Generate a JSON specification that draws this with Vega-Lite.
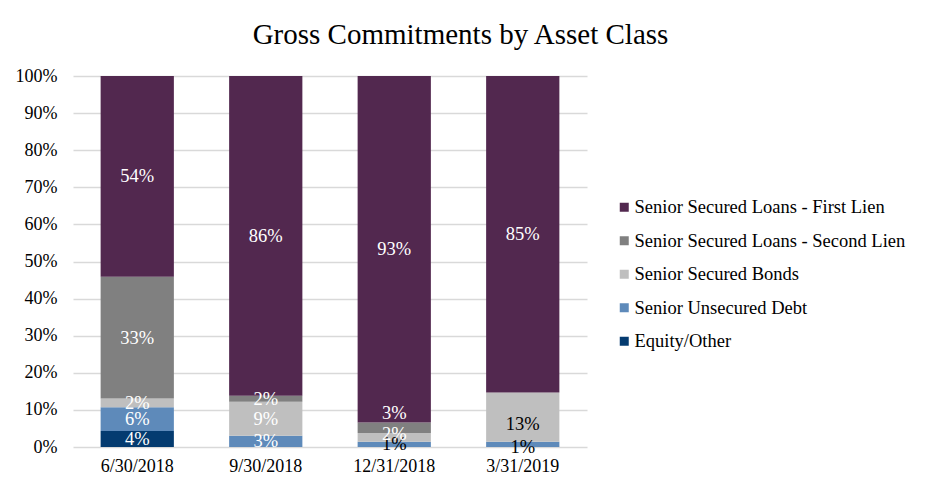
{
  "$schema": "https://vega.github.io/schema/vega-lite/v6.json",
  "width": 514,
  "height": 371,
  "autosize": {"type": "none"},
  "padding": {"left": 73, "top": 76, "right": 341, "bottom": 46},
  "background": "white",
  "title": {
    "text": "Gross Commitments by Asset Class",
    "font": "Liberation Serif",
    "fontSize": 29,
    "fontWeight": "normal",
    "color": "#000000",
    "anchor": "middle",
    "frame": "bounds",
    "offset": 17
  },
  "config": {
    "view": {"stroke": null},
    "axis": {"labelFont": "Liberation Serif", "labelFontSize": 18, "labelColor": "#000000"},
    "axisY": {
      "title": null,
      "values": [0, 10, 20, 30, 40, 50, 60, 70, 80, 90, 100],
      "labelExpr": "datum.value + '%'",
      "labelOverlap": false,
      "domain": false,
      "ticks": false,
      "labelPadding": 16,
      "grid": true,
      "gridColor": "#D9D9D9",
      "gridWidth": 1.5
    },
    "legend": {"labelFont": "Liberation Serif", "labelFontSize": 18.5, "labelColor": "#000000"}
  },
  "data": {
    "values": [
      {"date": "6/30/2018", "cls": "Equity/Other", "value": 4.3},
      {"date": "6/30/2018", "cls": "Senior Unsecured Debt", "value": 6.4},
      {"date": "6/30/2018", "cls": "Senior Secured Bonds", "value": 2.4},
      {"date": "6/30/2018", "cls": "Senior Secured Loans - Second Lien", "value": 32.8},
      {"date": "6/30/2018", "cls": "Senior Secured Loans - First Lien", "value": 54.1},
      {"date": "9/30/2018", "cls": "Senior Unsecured Debt", "value": 3.0},
      {"date": "9/30/2018", "cls": "Senior Secured Bonds", "value": 9.2},
      {"date": "9/30/2018", "cls": "Senior Secured Loans - Second Lien", "value": 1.6},
      {"date": "9/30/2018", "cls": "Senior Secured Loans - First Lien", "value": 86.2},
      {"date": "12/31/2018", "cls": "Senior Unsecured Debt", "value": 1.4},
      {"date": "12/31/2018", "cls": "Senior Secured Bonds", "value": 2.4},
      {"date": "12/31/2018", "cls": "Senior Secured Loans - Second Lien", "value": 2.8},
      {"date": "12/31/2018", "cls": "Senior Secured Loans - First Lien", "value": 93.4},
      {"date": "3/31/2019", "cls": "Senior Unsecured Debt", "value": 1.4},
      {"date": "3/31/2019", "cls": "Senior Secured Bonds", "value": 13.3},
      {"date": "3/31/2019", "cls": "Senior Secured Loans - First Lien", "value": 85.3}
    ]
  },
  "transform": [
    {"calculate": "indexof(['Equity/Other','Senior Unsecured Debt','Senior Secured Bonds','Senior Secured Loans - Second Lien','Senior Secured Loans - First Lien'], datum.cls)", "as": "ord"},
    {"stack": "value", "groupby": ["date"], "sort": [{"field": "ord", "order": "ascending"}], "as": ["y0", "y1"]},
    {"calculate": "(datum.y0 + datum.y1) / 2", "as": "mid"},
    {"calculate": "format(datum.value, '.0f') + '%'", "as": "label"}
  ],
  "encoding": {
    "x": {
      "field": "date",
      "type": "nominal",
      "sort": ["6/30/2018", "9/30/2018", "12/31/2018", "3/31/2019"],
      "scale": {"paddingInner": 0.43, "paddingOuter": 0.215},
      "axis": {"title": null, "labelAngle": 0, "domain": false, "ticks": false, "labelPadding": 10}
    }
  },
  "layer": [
    {
      "mark": {"type": "bar"},
      "encoding": {
        "y": {
          "field": "y0",
          "type": "quantitative",
          "title": null,
          "scale": {"domain": [0, 100], "nice": false}
        },
        "y2": {"field": "y1"},
        "color": {
          "field": "cls",
          "type": "nominal",
          "scale": {
            "domain": ["Senior Secured Loans - First Lien", "Senior Secured Loans - Second Lien", "Senior Secured Bonds", "Senior Unsecured Debt", "Equity/Other"],
            "range": ["#52284F", "#808080", "#BFBFBF", "#5E8ABA", "#043B70"]
          },
          "legend": {
            "title": null,
            "orient": "none",
            "legendX": 542,
            "legendY": 122,
            "symbolType": "square",
            "symbolSize": 81,
            "symbolStrokeWidth": 0,
            "rowPadding": 14.5,
            "labelOffset": 1,
            "labelLimit": 400
          }
        }
      }
    },
    {
      "transform": [
        {"filter": "!((datum.date == '12/31/2018' && (datum.cls == 'Senior Secured Loans - Second Lien' || datum.cls == 'Senior Secured Bonds')) || (datum.date == '3/31/2019' && datum.cls != 'Senior Secured Loans - First Lien'))"}
      ],
      "mark": {"type": "text", "font": "Liberation Serif", "fontSize": 18.5, "baseline": "middle"},
      "encoding": {
        "y": {"field": "mid", "type": "quantitative", "title": null},
        "text": {"field": "label"},
        "color": {
          "condition": {"test": "datum.date == '12/31/2018' && datum.cls == 'Senior Unsecured Debt'", "value": "#000000"},
          "value": "#FFFFFF"
        }
      }
    },
    {
      "transform": [{"filter": "datum.date == '12/31/2018' && datum.cls == 'Senior Secured Loans - Second Lien'"}],
      "mark": {"type": "text", "font": "Liberation Serif", "fontSize": 18.5, "baseline": "middle", "dy": -15, "color": "#FFFFFF"},
      "encoding": {"y": {"field": "mid", "type": "quantitative", "title": null}, "text": {"field": "label"}}
    },
    {
      "transform": [{"filter": "datum.date == '12/31/2018' && datum.cls == 'Senior Secured Bonds'"}],
      "mark": {"type": "text", "font": "Liberation Serif", "fontSize": 18.5, "baseline": "middle", "dy": -3, "color": "#FFFFFF"},
      "encoding": {"y": {"field": "mid", "type": "quantitative", "title": null}, "text": {"field": "label"}}
    },
    {
      "transform": [{"filter": "datum.date == '3/31/2019' && datum.cls == 'Senior Secured Bonds'"}],
      "mark": {"type": "text", "font": "Liberation Serif", "fontSize": 18.5, "baseline": "middle", "dy": 7, "color": "#000000"},
      "encoding": {"y": {"field": "mid", "type": "quantitative", "title": null}, "text": {"field": "label"}}
    },
    {
      "transform": [{"filter": "datum.date == '3/31/2019' && datum.cls == 'Senior Unsecured Debt'"}],
      "mark": {"type": "text", "font": "Liberation Serif", "fontSize": 18.5, "baseline": "middle", "dy": 3, "color": "#000000"},
      "encoding": {"y": {"field": "mid", "type": "quantitative", "title": null}, "text": {"field": "label"}}
    }
  ]
}
